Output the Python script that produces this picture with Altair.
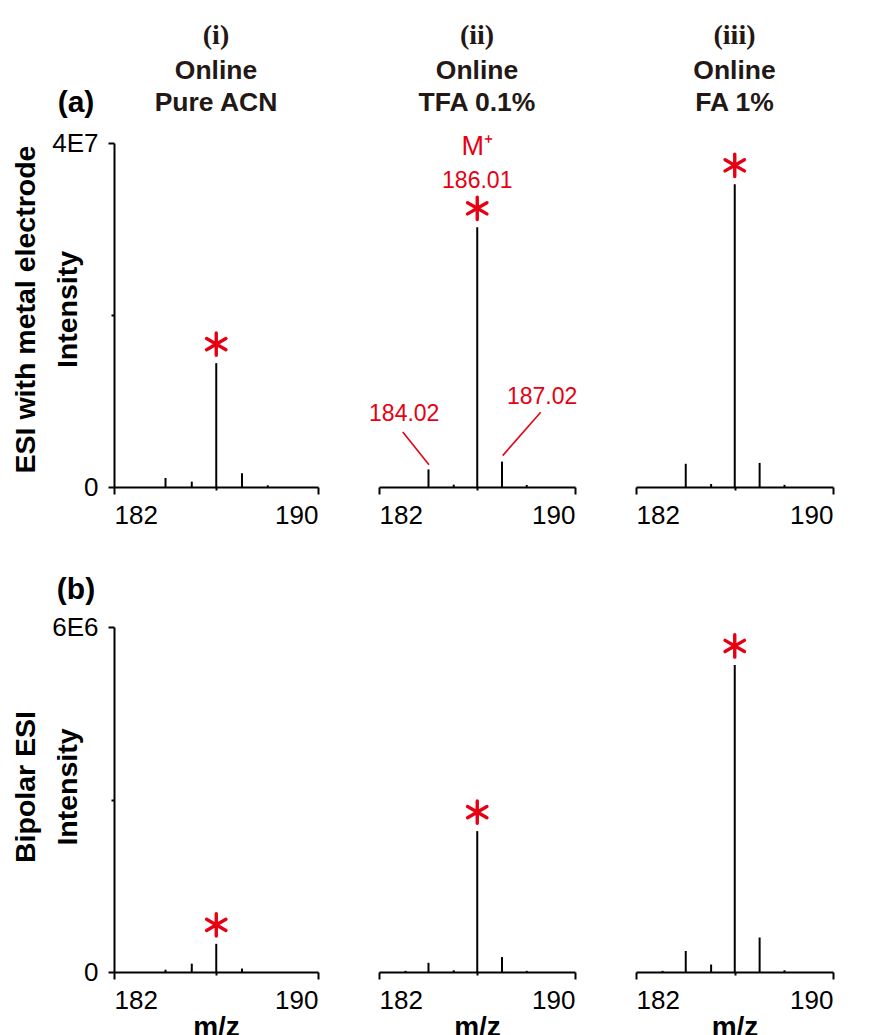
import altair as alt
import pandas as pd

# m/z positions of the observed peaks
MZ = [183.08, 184.02, 185.05, 186.01, 187.02, 188.03]

# peak intensities, one list per panel (0 = no visible peak)
ESI_PURE_ACN = [0, 1.05e6, 0.62e6, 1.44e7, 1.60e6, 0.20e6]
ESI_TFA = [0, 2.05e6, 0.27e6, 3.02e7, 2.95e6, 0.23e6]
ESI_FA = [0, 2.70e6, 0.35e6, 3.52e7, 2.80e6, 0.25e6]
BIPOLAR_PURE_ACN = [0, 0.04e6, 0.145e6, 0.49e6, 0.06e6, 0]
BIPOLAR_TFA = [0.02e6, 0.16e6, 0.03e6, 2.45e6, 0.26e6, 0.02e6]
BIPOLAR_FA = [0.02e6, 0.365e6, 0.13e6, 5.34e6, 0.60e6, 0.03e6]

ROWS = [[ESI_PURE_ACN, ESI_TFA, ESI_FA], [BIPOLAR_PURE_ACN, BIPOLAR_TFA, BIPOLAR_FA]]

ROMAN = ["(i)", "(ii)", "(iii)"]
CONDITIONS = [["Online", "Pure ACN"], ["Online", "TFA 0.1%"], ["Online", "FA 1%"]]
ROW_LETTERS = ["(a)", "(b)"]
ROW_TITLES = [["ESI with metal electrode", "Intensity"], ["Bipolar ESI", "Intensity"]]
Y_MAX = [4e7, 6e6]
X_DOMAIN = [182, 190]
X_TICKS = [182, 186, 190]

# labelled side peaks in the TFA panel, with their leader lines
SIDE_MZ = [184.02, 187.02]
SIDE_LABEL_MZ = [183.03, 188.66]
SIDE_LABEL_Y = [8.5e6, 1.05e7]
LEADER_START_MZ = [182.97, 188.60]
LEADER_START_Y = [6.4e6, 8.7e6]
LEADER_END_MZ = [184.04, 187.05]
LEADER_END_Y = [2.6e6, 3.65e6]
ION_LABEL = "M\u207a"

PANEL_W = [204, 196, 197]
PANEL_H = [344, 345]

RED = "#e60012"
INK = "#231815"
SANS = "Liberation Sans"
SERIF = "Liberation Serif"
STAR = "M0,-1L0,1M-0.866,-0.5L0.866,0.5M-0.866,0.5L0.866,-0.5"


def x_axis(with_title):
    return alt.Axis(
        values=X_TICKS,
        format="d",
        title="m/z" if with_title else None,
        labelExpr="datum.value == 186 ? '' : datum.label",
        tickSize={"condition": {"test": "datum.value == 186", "value": 3}, "value": 7},
        labelPadding=8,
        titleFontSize=28,
        titlePadding=0,
    )


def y_axis(row, ymax):
    return alt.Axis(
        values=[0, ymax / 2, ymax],
        labelExpr="datum.value == 0 ? '0' : (datum.index == 0.5 ? '' : "
        "replace(format(datum.value, '.0e'), 'e+', 'E'))",
        tickSize={"condition": {"test": "datum.index == 0.5", "value": 3}, "value": 6},
        labelPadding=10,
        title=ROW_TITLES[row],
        titleFontSize=28.5,
        titleLineHeight=42,
        titleX=-74,
        titleY=PANEL_H[row] / 2 - (6 if row == 0 else 13),
    )


def label_layer(text, x, y, size, font=SANS, weight="bold", color="black"):
    return alt.Chart(pd.DataFrame({"t": [text]})).mark_text(
        fontSize=size, fontWeight=weight, font=font, color=color,
        align="center", baseline="middle",
    ).encode(x=alt.value(x), y=alt.value(y), text="t:N")


def panel(row, col):
    vals = ROWS[row][col]
    ymax = Y_MAX[row]
    w, h = PANEL_W[col], PANEL_H[row]
    df = pd.DataFrame({"mz": MZ, "intensity": vals})
    df = df[df["intensity"] > 0]
    top = df.loc[[df["intensity"].idxmax()]]

    x = alt.X("mz:Q", scale=alt.Scale(domain=X_DOMAIN, nice=False, zero=False),
              axis=x_axis(row == 1))
    if col == 0:
        y = alt.Y("intensity:Q", scale=alt.Scale(domain=[0, ymax], nice=False),
                  axis=y_axis(row, ymax))
    else:
        y = alt.Y("intensity:Q", scale=alt.Scale(domain=[0, ymax], nice=False), axis=None)

    sticks = alt.Chart(df).mark_rule(color="black", strokeWidth=2).encode(
        x=x, y=y, y2=alt.datum(0)
    )
    star = alt.Chart(top).mark_point(
        shape=STAR, size=500, filled=False, color=RED, strokeWidth=3.4,
        strokeCap="round", opacity=1, yOffset=-19,
    ).encode(x=x, y=y)
    layers = [sticks, star]

    if row == 0 and col == 1:
        top_lab = top.assign(text=[f"{m:.2f}" for m in top["mz"]], ion=ION_LABEL)
        layers.append(
            alt.Chart(top_lab).mark_text(fontSize=23, color=RED, font=SANS, dy=-46)
            .encode(x=x, y=y, text="text:N")
        )
        layers.append(
            alt.Chart(top_lab).mark_text(fontSize=27, color=RED, font=SANS, dy=-80)
            .encode(x=x, y=y, text="ion:N")
        )
        side = pd.DataFrame({
            "mz": SIDE_LABEL_MZ, "intensity": SIDE_LABEL_Y,
            "text": [f"{m:.2f}" for m in SIDE_MZ],
        })
        layers.append(
            alt.Chart(side).mark_text(fontSize=23, color=RED, font=SANS)
            .encode(x=x, y=y, text="text:N")
        )
        leaders = pd.DataFrame({
            "mz": LEADER_START_MZ, "intensity": LEADER_START_Y,
            "mz2": LEADER_END_MZ, "intensity2": LEADER_END_Y,
        })
        layers.append(
            alt.Chart(leaders).mark_rule(color=RED, strokeWidth=1.6)
            .encode(x=x, y=y, x2="mz2:Q", y2="intensity2:Q")
        )

    if col == 0:
        layers.append(label_layer(ROW_LETTERS[row], -38, -40 if row == 0 else -37, 30))

    if row == 0:
        # column header: numeral, then the two-line condition
        layers.append(label_layer(ROMAN[col], w / 2, -107, 28, font=SERIF, color=INK))
        layers.append(label_layer(CONDITIONS[col][0], w / 2, -72, 26.5, color=INK))
        layers.append(label_layer(CONDITIONS[col][1], w / 2, -40, 26.5, color=INK))

    return alt.layer(*layers).properties(width=w, height=h)


panels = [panel(r, c) for r in range(2) for c in range(3)]

chart = (
    alt.concat(*panels, columns=3, spacing={"row": 140, "column": 61}, bounds="flush")
    .properties(padding={"left": 10, "top": 22, "right": 5, "bottom": 5}, background="white")
    .configure_view(stroke=None)
    .configure_axis(
        domainColor="black", domainWidth=2, tickColor="black", tickWidth=2,
        labelFont=SANS, labelFontSize=26, labelColor="black",
        titleFont=SANS, titleFontWeight="bold", titleColor="black", grid=False,
    )
)

chart.save("out.html", embed_options={"renderer": "svg", "actions": False})
